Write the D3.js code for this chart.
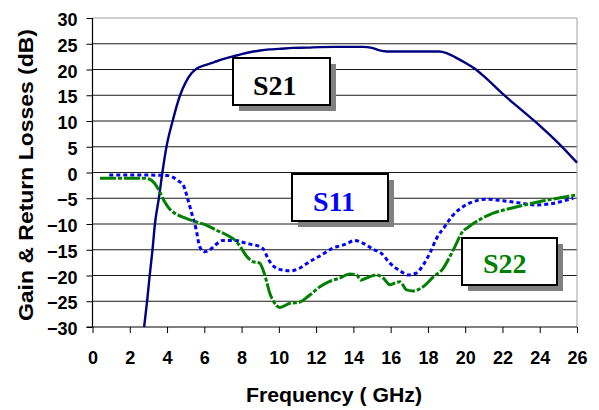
<!DOCTYPE html>
<html lang="en">
<head>
<meta charset="utf-8">
<script src="https://d3js.org/d3.v7.min.js"></script>
<style>
body { margin: 0; background: #fff; }
.tick-label { font-family: "Liberation Sans", Arial, sans-serif; font-weight: bold; font-size: 18px; fill: #000; }
.axis-title { font-family: "Liberation Sans", Arial, sans-serif; font-weight: bold; font-size: 20px; fill: #000; }
.tag { font-family: "Liberation Serif", "Times New Roman", serif; font-weight: bold; font-size: 28px; }
</style>
</head>
<body>
<svg width="599" height="410"></svg>
<script>
// ---- data ----
var xTicks = [0, 2, 4, 6, 8, 10, 12, 14, 16, 18, 20, 22, 24, 26];
var yTicks = [-30, -25, -20, -15, -10, -5, 0, 5, 10, 15, 20, 25, 30];

var s21Freq = [2.77, 2.93, 3.07, 3.22, 3.35, 3.56, 3.75, 3.97, 4.3, 4.7, 5.0, 5.3, 5.6, 6.0, 6.5, 7.0, 7.5, 8.0, 8.5, 9.0, 9.5, 10.0, 10.75, 11.5, 12.2, 13.0, 14.5, 15.0, 15.4, 15.8, 17.0, 18.6, 19.0, 19.5, 20.0, 20.5, 21.0, 22.0, 23.0, 24.0, 25.0, 26.0];
var s21Val  = [-30, -25, -20, -15, -10, -5, 0, 5, 10, 15, 17.5, 19.2, 20.2, 20.8, 21.4, 22.0, 22.5, 23.0, 23.4, 23.7, 23.9, 24.0, 24.2, 24.25, 24.35, 24.4, 24.4, 24.2, 23.7, 23.5, 23.5, 23.5, 23.2, 22.3, 21.3, 20.2, 18.7, 15.3, 12.2, 9.1, 5.7, 1.9];

var s11Freq = [0.9, 2.0, 3.0, 4.0, 4.3, 4.6, 4.9, 5.1, 5.3, 5.57, 5.75, 6.0, 6.3, 6.55, 7.0, 7.7, 8.1, 8.45, 8.97, 9.2, 9.4, 9.87, 10.3, 10.6, 11.1, 11.66, 12.2, 12.9, 13.6, 14.07, 14.5, 15.06, 15.5, 15.96, 16.5, 16.94, 17.4, 17.74, 18.1, 18.46, 18.9, 19.27, 19.9, 20.4, 21.15, 22.04, 22.9, 23.8, 24.7, 25.5, 25.8];
var s11Val  = [-0.5, -0.5, -0.5, -0.6, -0.9, -1.6, -2.7, -5.0, -7.6, -11.2, -14.4, -15.4, -15.0, -14.2, -13.2, -13.2, -13.6, -13.9, -14.4, -15.0, -16.6, -18.6, -19.0, -19.1, -18.6, -17.3, -16.2, -14.7, -13.9, -13.2, -13.7, -14.9, -15.7, -17.6, -19.1, -19.9, -19.5, -18.0, -15.7, -12.8, -10.5, -8.6, -6.6, -5.7, -5.2, -5.5, -5.9, -6.3, -6.0, -5.3, -5.0];

var s22Freq = [0.4, 2.7, 3.06, 3.33, 3.6, 3.87, 4.14, 4.5, 5.03, 5.57, 6.1, 6.65, 7.18, 7.72, 8.0, 8.26, 8.6, 8.97, 9.15, 9.33, 9.5, 9.68, 10.05, 10.6, 11.1, 11.66, 12.2, 12.7, 13.27, 13.8, 14.17, 14.4, 14.7, 15.24, 15.6, 15.96, 16.2, 16.5, 16.85, 17.2, 17.74, 18.28, 18.82, 19.18, 19.45, 19.8, 20.25, 20.8, 21.5, 22.4, 23.3, 24.2, 25.1, 25.9];
var s22Val  = [-1.1, -1.1, -1.3, -2.1, -3.7, -5.7, -7.1, -8.1, -8.9, -9.6, -10.2, -11.2, -12.1, -13.4, -14.8, -16.2, -17.3, -17.6, -18.9, -21.0, -23.3, -24.8, -26.2, -25.4, -25.2, -23.8, -22.2, -21.2, -20.5, -19.7, -19.9, -20.9, -20.5, -19.9, -20.5, -21.8, -21.5, -21.2, -22.8, -23.0, -22.2, -20.3, -18.6, -16.3, -14.4, -11.8, -10.4, -9.1, -7.9, -7.0, -6.2, -5.5, -4.9, -4.4];

var seriesNames = ["S21", "S11", "S22"];
var xTitle = "Frequency ( GHz)";
var yTitle = "Gain & Return Losses (dB)";

// ---- layout ----
var svg = d3.select("svg");
var plotLeft = 92.5, plotRight = 577, plotTop = 18, plotBottom = 327;

var x = d3.scaleLinear().domain([0, 26]).range([plotLeft, plotRight]);
var y = d3.scaleLinear().domain([-30, 30]).range([plotBottom, plotTop]);

// gridlines
svg.append("g")
  .selectAll("line")
  .data(yTicks.filter(function(d) { return d > -30 && d < 30; }))
  .enter().append("line")
  .attr("x1", plotLeft).attr("x2", plotRight)
  .attr("y1", function(d) { return y(d); })
  .attr("y2", function(d) { return y(d); })
  .attr("stroke", "#1a1a1a").attr("stroke-width", 1);

// plot border top / right
svg.append("line").attr("x1", plotLeft).attr("x2", plotRight).attr("y1", y(30)).attr("y2", y(30))
  .attr("stroke", "#a0a0a0").attr("stroke-width", 1);
svg.append("line").attr("x1", plotRight).attr("x2", plotRight).attr("y1", y(30)).attr("y2", y(-30))
  .attr("stroke", "#a0a0a0").attr("stroke-width", 1);

// axes
var yAxis = svg.append("g")
  .attr("transform", "translate(" + plotLeft + ",0)")
  .call(d3.axisLeft(y).tickValues(yTicks).tickSize(6).tickPadding(9));
var xAxis = svg.append("g")
  .attr("transform", "translate(0," + plotBottom + ")")
  .call(d3.axisBottom(x).tickValues(xTicks).tickSize(6).tickPadding(18));

[xAxis, yAxis].forEach(function(a) {
  a.attr("font-size", null).attr("font-family", null);
  a.select(".domain").attr("stroke", "#000").attr("stroke-width", 1.2);
  a.selectAll(".tick line").attr("stroke", "#000");
  a.selectAll(".tick text").attr("class", "tick-label");
});
yAxis.select(".domain").attr("d", "M0," + plotTop + "V" + plotBottom);
xAxis.select(".domain").attr("d", "M" + (plotLeft - 6) + ",0H" + plotRight);
yAxis.selectAll(".tick text").attr("dy", "0.42em");

// titles
svg.append("text").attr("class", "axis-title")
  .attr("x", 334).attr("y", 402)
  .attr("text-anchor", "middle")
  .attr("textLength", 176).attr("lengthAdjust", "spacingAndGlyphs")
  .text(xTitle);
svg.append("text").attr("class", "axis-title")
  .attr("transform", "translate(33,175) rotate(-90)")
  .attr("text-anchor", "middle")
  .attr("textLength", 292).attr("lengthAdjust", "spacingAndGlyphs")
  .text(yTitle);

// curves
var line = d3.line()
  .x(function(d) { return x(d[0]); })
  .y(function(d) { return y(d[1]); })
  .curve(d3.curveMonotoneX);

var plot = svg.append("g");
plot.append("path")
  .datum(d3.zip(s21Freq, s21Val))
  .attr("d", line).attr("fill", "none")
  .attr("stroke", "#000080").attr("stroke-width", 2.4);
plot.append("path")
  .datum(d3.zip(s11Freq, s11Val))
  .attr("d", line).attr("fill", "none")
  .attr("stroke", "#0000ff").attr("stroke-width", 3)
  .attr("stroke-dasharray", "4,3");
plot.append("path")
  .datum(d3.zip(s22Freq, s22Val))
  .attr("d", line).attr("fill", "none")
  .attr("stroke", "#008000").attr("stroke-width", 3)
  .attr("stroke-dasharray", "16,2,4,2");

// labelled boxes
var boxes = [
  { name: seriesNames[0], x: 233, y: 58,  w: 97, h: 47, tx: 253, ty: 95,  color: "#000" },
  { name: seriesNames[1], x: 292, y: 174, w: 96, h: 47, tx: 313, ty: 211, color: "#0000ff" },
  { name: seriesNames[2], x: 462, y: 238, w: 95, h: 47, tx: 483, ty: 273, color: "#008000" }
];
var tag = svg.append("g").selectAll("g").data(boxes).enter().append("g");
tag.append("rect")
  .attr("x", function(d) { return d.x + 6; }).attr("y", function(d) { return d.y + 6; })
  .attr("width", function(d) { return d.w; }).attr("height", function(d) { return d.h; })
  .attr("fill", "#808080");
tag.append("rect")
  .attr("x", function(d) { return d.x; }).attr("y", function(d) { return d.y; })
  .attr("width", function(d) { return d.w; }).attr("height", function(d) { return d.h; })
  .attr("fill", "#fff").attr("stroke", "#000").attr("stroke-width", 2);
tag.append("text").attr("class", "tag")
  .attr("x", function(d) { return d.tx; }).attr("y", function(d) { return d.ty; })
  .attr("fill", function(d) { return d.color; })
  .text(function(d) { return d.name; });
</script>
</body>
</html>
